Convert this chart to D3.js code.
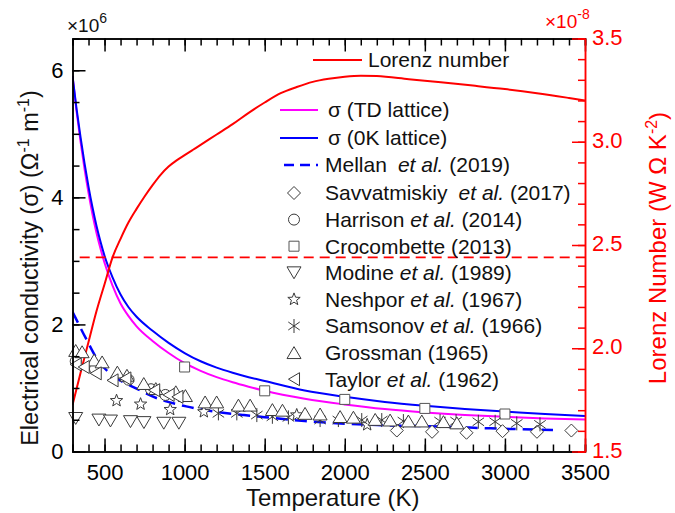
<!DOCTYPE html>
<html>
<head>
<meta charset="utf-8">
<script src="https://cdn.jsdelivr.net/npm/d3@7"></script>
<style>
  body { margin: 0; background: #fff; }
  svg text { font-family: "Liberation Sans", Arial, Helvetica, sans-serif; }
</style>
</head>
<body>
<svg id="chart" width="675" height="513"></svg>
<script>
// ---- Calculated curves -------------------------------------------------
const curveTemps = [300, 325, 350, 375, 400, 425, 450, 475, 500, 550, 600, 650, 700, 800, 900,
  1000, 1100, 1200, 1300, 1400, 1500, 1750, 2000, 2250, 2500, 2750, 3000, 3250, 3500];
// sigma (0K lattice), units of 1e6 S/m
const sigma0K = [5.91, 5.40, 4.95, 4.54, 4.17, 3.84, 3.55, 3.30, 3.08, 2.74, 2.47, 2.27, 2.12, 1.90, 1.71,
  1.55, 1.42, 1.32, 1.24, 1.17, 1.11, 0.96, 0.86, 0.78, 0.72, 0.67, 0.63, 0.59, 0.557];
// sigma (TD lattice), units of 1e6 S/m
const sigmaTD = [5.91, 5.36, 4.88, 4.45, 4.07, 3.73, 3.44, 3.19, 2.97, 2.61, 2.33, 2.13, 1.97, 1.74, 1.55,
  1.39, 1.27, 1.17, 1.09, 1.02, 0.955, 0.83, 0.74, 0.667, 0.615, 0.575, 0.545, 0.52, 0.505];

// Lorenz number, units of 1e-8 W Ohm K^-2
const lorenzTemps = [300, 350, 400, 450, 500, 550, 600, 650, 700, 750, 800, 850, 900, 950, 1000, 1050,
  1100, 1200, 1300, 1400, 1500, 1600, 1700, 1800, 1900, 2000, 2100, 2200, 2400, 2600, 2800, 3000, 3200, 3400, 3500];
const lorenzValues = [1.725, 1.88, 2.03, 2.18, 2.31, 2.44, 2.53, 2.61, 2.675, 2.735, 2.79, 2.84, 2.88, 2.91, 2.935, 2.96,
  2.985, 3.035, 3.085, 3.14, 3.19, 3.235, 3.265, 3.29, 3.305, 3.315, 3.32, 3.318, 3.303, 3.288, 3.272, 3.255, 3.235, 3.212, 3.20];
const sommerfeldL0 = 2.44;
const sommerfeldRange = [345, 3500];

// ---- Literature data (sigma, 1e6 S/m) ----------------------------------
const mellanT = [300, 390, 465, 550, 700, 830, 1010, 1200, 1370, 1500, 1750, 2080, 2230, 2640, 2910, 3300];
const mellanS = [2.2, 1.75, 1.41, 1.2, 0.99, 0.835, 0.71, 0.625, 0.573, 0.54, 0.48, 0.427, 0.414, 0.39, 0.364, 0.338];

const savvT = [2325, 2545, 2760, 2985, 3200, 3415];
const savvS = [0.33, 0.31, 0.295, 0.32, 0.31, 0.33];

const harrisonT = [320, 440, 650, 790, 880];
const harrisonS = [1.42, 1.30, 1.13, 0.98, 0.89];

const crocT = [1000, 1500, 2000, 2500, 3000];
const crocS = [1.33, 0.955, 0.82, 0.678, 0.59];

const modineT = [320, 465, 537, 662, 746, 870, 964];
const modineS = [0.52, 0.495, 0.48, 0.47, 0.455, 0.445, 0.445];

const neshporT = [575, 725, 910, 1120, 1700, 2140];
const neshporS = [0.80, 0.745, 0.66, 0.625, 0.575, 0.42];

const samsonovT = [1211, 1326, 1451, 1548, 1648, 1846, 1960, 2106, 2231, 2366, 2595, 2695, 2834, 2939, 3074, 3219];
const samsonovS = [0.60, 0.60, 0.573, 0.546, 0.537, 0.495, 0.495, 0.495, 0.495, 0.479, 0.479, 0.479, 0.468, 0.468, 0.443, 0.427];

const grossmanT = [320, 360, 435, 485, 580, 640, 745, 820, 945, 1005, 1128, 1200, 1336, 1409, 1548, 1611,
  1752, 1846, 1971, 2054, 2190, 2283, 2397, 2481, 2616, 2700];
const grossmanS = [1.59, 1.57, 1.44, 1.41, 1.25, 1.20, 1.07, 0.99, 0.94, 0.88, 0.78, 0.78, 0.73, 0.73, 0.66, 0.65,
  0.60, 0.59, 0.55, 0.54, 0.505, 0.495, 0.48, 0.48, 0.47, 0.45];

const taylorT = [320, 370, 445, 550, 630, 810, 900, 955];
const taylorS = [1.37, 1.33, 1.23, 1.12, 1.15, 0.965, 0.89, 0.86];

// ---- Axis ticks -------------------------------------------------------
const xMajorTicks = [500, 1000, 1500, 2000, 2500, 3000, 3500];
const yLeftMajorTicks = [0, 2, 4, 6];
const yRightMajorTicks = [1.5, 2.0, 2.5, 3.0, 3.5];

// ---- Legend labels -----------------------------------------------------
const legendLines = ["Lorenz number", "σ (TD lattice)", "σ (0K lattice)"];

// =======================================================================
const svg = d3.select("#chart");
const m = { left: 72.5, right: 585, top: 38.5, bottom: 451.5 };

const x = d3.scaleLinear().domain([300, 3500]).range([m.left, m.right]);
const y = d3.scaleLinear().domain([0, 6.5]).range([m.bottom, m.top]);
const yR = d3.scaleLinear().domain([1.5, 3.5]).range([m.bottom, m.top]);

const RED = "#ff0000", MAG = "#ff00ff", BLUE = "#0000ff", INK = "#111";
const MK = "#3a3a3a";

svg.append("defs").append("clipPath").attr("id", "plotclip")
  .append("rect").attr("x", m.left).attr("y", m.top)
  .attr("width", m.right - m.left).attr("height", m.bottom - m.top);

const plot = svg.append("g").attr("clip-path", "url(#plotclip)");

// ---- Curves ----
const lineS = d3.line().x(d => x(d[0])).y(d => y(d[1])).curve(d3.curveMonotoneX);
const lineL = d3.line().x(d => x(d[0])).y(d => yR(d[1])).curve(d3.curveMonotoneX);

plot.append("path").datum(d3.zip(curveTemps, sigmaTD))
  .attr("d", lineS).attr("fill", "none").attr("stroke", MAG).attr("stroke-width", 2);
plot.append("path").datum(d3.zip(curveTemps, sigma0K))
  .attr("d", lineS).attr("fill", "none").attr("stroke", BLUE).attr("stroke-width", 2);
plot.append("path").datum(d3.zip(mellanT, mellanS))
  .attr("d", lineS).attr("fill", "none").attr("stroke", BLUE).attr("stroke-width", 2.5)
  .attr("stroke-dasharray", "12,7");

// Sommerfeld value of the Lorenz number
plot.append("path").datum(sommerfeldRange.map(t => [t, sommerfeldL0]))
  .attr("d", d3.line().x(d => x(d[0])).y(d => yR(d[1])))
  .attr("fill", "none").attr("stroke", RED).attr("stroke-width", 1.6)
  .attr("stroke-dasharray", "10,6");

// ---- Marker shapes ----
const shapes = {
  diamond: { draw(c, s) { const r = Math.sqrt(s); c.moveTo(0, -r); c.lineTo(r, 0); c.lineTo(0, r); c.lineTo(-r, 0); c.closePath(); } },
  circle: { draw(c, s) { const r = Math.sqrt(s); c.moveTo(r, 0); c.arc(0, 0, r, 0, 2 * Math.PI); } },
  square: { draw(c, s) { const r = Math.sqrt(s); c.rect(-r, -r, 2 * r, 2 * r); } },
  triDown: { draw(c, s) { const r = Math.sqrt(s); c.moveTo(0, r * 0.85); c.lineTo(r, -r * 0.85); c.lineTo(-r, -r * 0.85); c.closePath(); } },
  triUp: { draw(c, s) { const r = Math.sqrt(s); c.moveTo(0, -r * 0.85); c.lineTo(r, r * 0.85); c.lineTo(-r, r * 0.85); c.closePath(); } },
  triLeft: { draw(c, s) { const r = Math.sqrt(s); c.moveTo(-r * 0.85, 0); c.lineTo(r * 0.85, -r); c.lineTo(r * 0.85, r); c.closePath(); } },
  star: { draw(c, s) {
    const R = Math.sqrt(s), ri = R * 0.42;
    for (let i = 0; i < 10; i++) {
      const a = -Math.PI / 2 + i * Math.PI / 5, rr = i % 2 ? ri : R;
      const px = rr * Math.cos(a), py = rr * Math.sin(a);
      i ? c.lineTo(px, py) : c.moveTo(px, py);
    }
    c.closePath();
  } },
  asterisk: { draw(c, s) {
    const r = Math.sqrt(s);
    for (const a of [90, 35, -35]) {
      const rad = a * Math.PI / 180, dx = r * Math.cos(rad), dy = r * Math.sin(rad);
      c.moveTo(-dx, -dy); c.lineTo(dx, dy);
    }
  } }
};

const series = [
  { T: savvT, S: savvS, shape: "diamond", r: 6.5, label: ["Savvatmiskiy", "et al.", " (2017)"], gap: true },
  { T: harrisonT, S: harrisonS, shape: "circle", r: 5.5, label: ["Harrison ", "et al.", " (2014)"] },
  { T: crocT, S: crocS, shape: "square", r: 5, label: ["Crocombette (2013)"], stroke: "#555" },
  { T: modineT, S: modineS, shape: "triDown", r: 7, label: ["Modine ", "et al.", " (1989)"] },
  { T: neshporT, S: neshporS, shape: "star", r: 6.5, label: ["Neshpor ", "et al.", " (1967)"] },
  { T: samsonovT, S: samsonovS, shape: "asterisk", r: 7, label: ["Samsonov ", "et al.", " (1966)"] },
  { T: grossmanT, S: grossmanS, shape: "triUp", r: 7, label: ["Grossman (1965)"] },
  { T: taylorT, S: taylorS, shape: "triLeft", r: 6.5, label: ["Taylor ", "et al.", " (1962)"] }
];

const markers = svg.append("g");
series.forEach(s => {
  const gen = d3.symbol().type(shapes[s.shape]).size(s.r * s.r);
  markers.selectAll(null).data(d3.zip(s.T, s.S)).join("path")
    .attr("transform", d => `translate(${x(d[0])},${y(d[1])})`)
    .attr("d", gen)
    .attr("fill", s.shape === "asterisk" ? "none" : "#fff")
    .attr("stroke", s.stroke || MK).attr("stroke-width", 1);
});

// Lorenz number curve
plot.append("path").datum(d3.zip(lorenzTemps, lorenzValues))
  .attr("d", lineL).attr("fill", "none").attr("stroke", RED).attr("stroke-width", 2);

// ---- Axes ----
const tickStyle = (g, color) => {
  g.selectAll("line, path").attr("stroke", color).attr("stroke-width", 1.5);
  g.selectAll("text").attr("fill", color).style("font-size", "22px")
    .style("font-family", "'Liberation Sans', Arial, sans-serif");
};

// bottom
svg.append("g").attr("transform", `translate(0,${m.bottom})`)
  .call(d3.axisBottom(x).tickValues(d3.range(300, 3501, 100)).tickSize(-7).tickFormat(""))
  .call(g => tickStyle(g, "#000"));
svg.append("g").attr("transform", `translate(0,${m.bottom})`)
  .call(d3.axisBottom(x).tickValues(xMajorTicks).tickSizeInner(-13).tickSizeOuter(0).tickPadding(13).tickFormat(d3.format("d")))
  .call(g => tickStyle(g, "#000"));
// top
svg.append("g").attr("transform", `translate(0,${m.top})`)
  .call(d3.axisTop(x).tickValues(d3.range(300, 3501, 100)).tickSize(-7).tickFormat(""))
  .call(g => tickStyle(g, "#000"));
svg.append("g").attr("transform", `translate(0,${m.top})`)
  .call(d3.axisTop(x).tickValues(xMajorTicks).tickSizeInner(-13).tickSizeOuter(0).tickFormat(""))
  .call(g => tickStyle(g, "#000"));
// left
svg.append("g").attr("transform", `translate(${m.left},0)`)
  .call(d3.axisLeft(y).tickValues(d3.range(0, 6.01, 0.5)).tickSize(-7).tickFormat(""))
  .call(g => tickStyle(g, "#000"));
svg.append("g").attr("transform", `translate(${m.left},0)`)
  .call(d3.axisLeft(y).tickValues(yLeftMajorTicks).tickSizeInner(-13).tickSizeOuter(0).tickPadding(9).tickFormat(d3.format("d")))
  .call(g => tickStyle(g, "#000"));
// right (Lorenz)
svg.append("g").attr("transform", `translate(${m.right},0)`)
  .call(d3.axisRight(yR).tickValues(d3.range(15, 36, 1).map(v => v / 10)).tickSize(-7).tickFormat(""))
  .call(g => tickStyle(g, RED));
svg.append("g").attr("transform", `translate(${m.right},0)`)
  .call(d3.axisRight(yR).tickValues(yRightMajorTicks).tickSizeInner(-13).tickSizeOuter(0).tickPadding(7).tickFormat(d3.format(".1f")))
  .call(g => tickStyle(g, RED))
  .call(g => g.selectAll("text").attr("dy", "0.25em"));

// ---- Axis titles and multipliers ----
svg.append("text").attr("x", (m.left + m.right) / 2 + 4).attr("y", 506)
  .attr("text-anchor", "middle").attr("fill", INK).style("font-size", "24px").text("Temperature (K)");

const lt = svg.append("text").attr("transform", "translate(38,268) rotate(-90)")
  .attr("text-anchor", "middle").attr("fill", INK).style("font-size", "23.5px");
lt.append("tspan").text("Electrical conductivity (σ) (Ω");
lt.append("tspan").attr("dy", -9).style("font-size", "16px").text("-1");
lt.append("tspan").attr("dy", 9).text(" m");
lt.append("tspan").attr("dy", -9).style("font-size", "16px").text("-1");
lt.append("tspan").attr("dy", 9).text(")");

const rt = svg.append("text").attr("transform", "translate(666,248) rotate(-90)")
  .attr("text-anchor", "middle").attr("fill", RED).style("font-size", "24px");
rt.append("tspan").text("Lorenz Number (W Ω K");
rt.append("tspan").attr("dy", -9).style("font-size", "16px").text("-2");
rt.append("tspan").attr("dy", 9).text(")");

const mx = svg.append("text").attr("x", 67).attr("y", 32).attr("fill", INK).style("font-size", "19px");
mx.append("tspan").text("×10");
mx.append("tspan").attr("dy", -9).style("font-size", "14px").text("6");

const mxr = svg.append("text").attr("x", 545).attr("y", 28).attr("fill", RED).style("font-size", "19px");
mxr.append("tspan").text("×10");
mxr.append("tspan").attr("dy", -9).style("font-size", "14px").text("-8");

// ---- Legend ----
const leg = svg.append("g").style("font-size", "21px");
const lineKeys = [
  { y: 60, x0: 313, x1: 362, tx: 368, color: RED },
  { y: 110, x0: 280, x1: 318, tx: 328, color: MAG },
  { y: 138, x0: 280, x1: 318, tx: 328, color: BLUE }
];
lineKeys.forEach((k, i) => {
  leg.append("path").datum([[k.x0, k.y], [k.x1, k.y]]).attr("d", d3.line())
    .attr("stroke", k.color).attr("stroke-width", 2);
  leg.append("text").attr("x", k.tx).attr("y", k.y).attr("dy", "0.35em").attr("fill", INK).text(legendLines[i]);
});
// Mellan dashed key
leg.append("path").datum([[280, 165], [318, 165]]).attr("d", d3.line())
  .attr("stroke", BLUE).attr("stroke-width", 2.5).attr("stroke-dasharray", "10,6").attr("stroke-dashoffset", -4);
const mt = leg.append("text").attr("x", 325).attr("y", 165).attr("dy", "0.35em").attr("fill", INK);
mt.append("tspan").text("Mellan");
mt.append("tspan").attr("dx", 11).style("font-style", "italic").text("et al.");
mt.append("tspan").text(" (2019)");

series.forEach((s, i) => {
  const ly = 193 + i * 26.6;
  const gen = d3.symbol().type(shapes[s.shape]).size(s.r * s.r);
  leg.append("path").attr("transform", `translate(294,${ly})`).attr("d", gen)
    .attr("fill", s.shape === "asterisk" ? "none" : "#fff").attr("stroke", s.stroke || MK).attr("stroke-width", 1);
  const t = leg.append("text").attr("x", 325).attr("y", ly).attr("dy", "0.35em").attr("fill", INK);
  s.label.forEach((part, j) => {
    const ts = t.append("tspan").text(part);
    if (part === "et al.") ts.style("font-style", "italic");
    if (s.gap && j === 1) ts.attr("dx", 11);
  });
});
</script>
</body>
</html>
